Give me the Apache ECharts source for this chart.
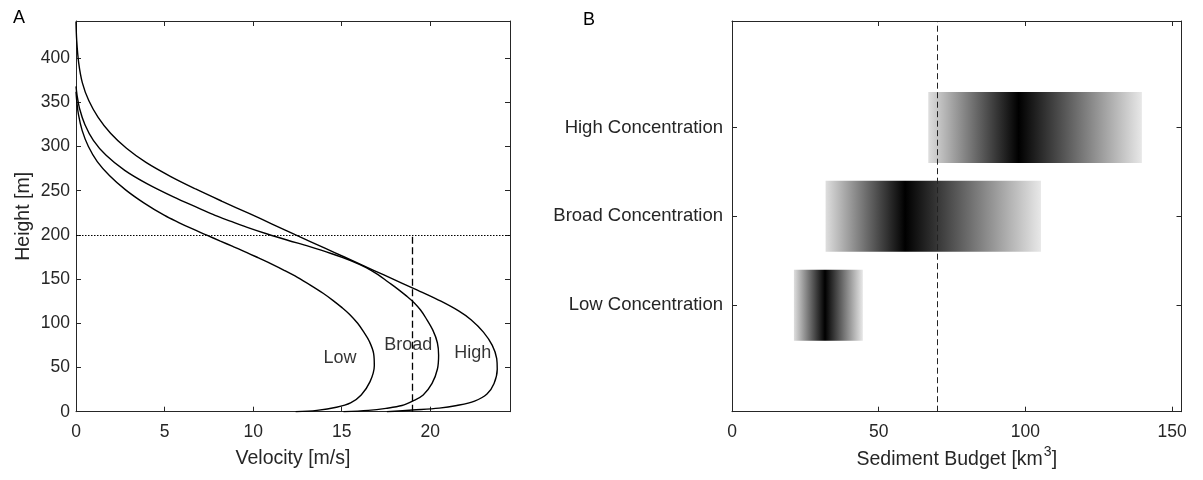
<!DOCTYPE html>
<html>
<head>
<meta charset="utf-8">
<script src="https://cdn.jsdelivr.net/npm/echarts@6/dist/echarts.min.js"></script>
<style>
  html, body { margin: 0; padding: 0; background: #fff; }
  #main { width: 1203px; height: 480px; }
</style>
</head>
<body>
<div id="main"></div>
<script>
// panel A: velocity profiles [velocity m/s, height m]
const lowProfile = [[12.4,0],[13.6,1.5],[14.7,5],[15.5,10],[16.1,19],[16.6,34],[16.84,52],[16.8,66],[16.55,80],[16.25,90],[15.9,100],[15.45,110],[15.0,118],[14.5,126],[13.95,134],[13.25,143],[12.5,152],[11.75,160],[11.05,167],[10.3,174],[9.65,180],[8.85,187],[8.15,193],[7.35,200],[6.55,207],[5.8,214],[5.0,222],[3.85,236],[2.8,251],[1.9,267],[1.2,283],[0.7,300],[0.35,318],[0.14,336],[0.04,352],[0,362]];
const broadProfile = [[15.1,0],[16.5,1.5],[17.5,3.8],[18.4,7],[19.0,12],[19.6,19],[20.1,32],[20.4,48],[20.47,64],[20.4,78],[20.15,92],[19.75,106],[19.45,115],[19.1,123],[18.65,131],[18.15,139],[17.6,147],[17.05,155],[16.38,163],[15.5,171],[14.4,179],[13.15,187],[11.95,194],[10.8,201],[9.75,208],[8.8,215],[7.85,222],[6.95,230],[5.5,243],[4.0,258],[2.75,273],[1.7,290],[0.98,307],[0.5,325],[0.2,343],[0.06,358],[0,368]];
const highProfile = [[17.55,0],[19.0,1.9],[20.5,4],[21.5,7],[22.5,12],[23.2,20],[23.6,32],[23.78,48],[23.75,60],[23.5,75],[23.0,90],[22.3,104],[21.6,114],[20.6,125],[19.55,135],[18.45,145],[17.35,155],[16.25,165],[15.15,175],[14.05,185],[12.4,200],[11.1,212],[9.8,224],[8.25,238],[6.75,252],[5.35,266],[3.95,282],[2.85,298],[1.95,315],[1.25,333],[0.72,352],[0.36,372],[0.15,395],[0.04,420],[0,441]];
const profileNames = ['Low', 'Broad', 'High'];
const profileLabelPos = [[14.9,61],[18.76,75.5],[22.4,66.5]];
const flowDepth = 200;      // dotted line
const velocityMark = 19;    // dashed line

// panel B: sediment budget ranges [km3]
const categories = ['Low Concentration', 'Broad Concentration', 'High Concentration'];
const catPos = [1, 2, 3];
const budgetMin = [21.1, 31.9, 66.9];
const budgetMax = [44.6, 105.3, 139.7];
const budgetPeak = [31.7, 59.0, 97.7];
const budgetMark = 70;

const FONT = 'Liberation Sans';
const AX = '#262626';

const chart = echarts.init(document.getElementById('main'));

const lineOf = { onZero: false, lineStyle: { color: AX, width: 1 } };
const tickIn = { inside: true, length: 5, lineStyle: { color: AX } };
const lbl = { color: AX, fontFamily: FONT, fontSize: 17.5 };
const nameStyle = { color: AX, fontFamily: FONT, fontSize: 19.5 };

function curve(name, data) {
  return {
    name: name, type: 'line', xAxisIndex: 0, yAxisIndex: 0,
    data: data, showSymbol: false, smooth: 0.35,
    lineStyle: { color: '#000', width: 1.4 }, silent: true
  };
}

const barData = categories.map((c, i) => [budgetMin[i], budgetMax[i], budgetPeak[i], catPos[i]]);

let option = {
  animation: false,
  title: [
    { text: 'A', left: 8, top: 4, textStyle: { fontSize: 18, fontWeight: 'normal', color: '#000', fontFamily: FONT } },
    { text: 'B', left: 578, top: 6, textStyle: { fontSize: 18, fontWeight: 'normal', color: '#000', fontFamily: FONT } }
  ],
  grid: [
    { left: 76, width: 434, top: 21, bottom: 68.3 },
    { left: 732, right: 21.5, top: 21, bottom: 68.3 }
  ],
  xAxis: [
    { type: 'value', gridIndex: 0, min: 0, max: 24.5, interval: 5,
      name: 'Velocity [m/s]', nameLocation: 'middle', nameGap: 37, nameTextStyle: nameStyle,
      axisLine: lineOf, axisTick: tickIn, splitLine: { show: false },
      axisLabel: Object.assign({ margin: 11, showMaxLabel: false }, lbl) },
    { type: 'value', gridIndex: 0, position: 'top', min: 0, max: 24.5, interval: 5,
      axisLine: lineOf, axisTick: tickIn, splitLine: { show: false }, axisLabel: { show: false } },
    { type: 'value', gridIndex: 1, min: 0, max: 153.2, interval: 50,
      name: 'Sediment Budget [km{sup|3}]', nameLocation: 'middle', nameGap: 33,
      nameTextStyle: Object.assign({ rich: { sup: { fontFamily: FONT, fontSize: 14, color: AX, verticalAlign: 'top', padding: [0, 0, 14, 1] } } }, nameStyle),
      axisLine: lineOf, axisTick: tickIn, splitLine: { show: false },
      axisLabel: Object.assign({ margin: 11, showMaxLabel: false }, lbl) },
    { type: 'value', gridIndex: 1, position: 'top', min: 0, max: 153.2, interval: 50,
      axisLine: lineOf, axisTick: tickIn, splitLine: { show: false }, axisLabel: { show: false } }
  ],
  yAxis: [
    { type: 'value', gridIndex: 0, min: 0, max: 442, interval: 50,
      name: 'Height [m]', nameLocation: 'middle', nameGap: 42, nameTextStyle: nameStyle,
      axisLine: lineOf, axisTick: tickIn, splitLine: { show: false },
      axisLabel: Object.assign({ margin: 6, showMaxLabel: false }, lbl) },
    { type: 'value', gridIndex: 0, position: 'right', min: 0, max: 442, interval: 50,
      axisLine: lineOf, axisTick: tickIn, splitLine: { show: false }, axisLabel: { show: false } },
    { type: 'value', gridIndex: 1, min: -0.2, max: 4.2,
      axisLine: lineOf, splitLine: { show: false },
      axisTick: Object.assign({ customValues: catPos }, tickIn),
      axisLabel: Object.assign({ margin: 9, customValues: catPos,
        formatter: v => categories[catPos.indexOf(v)] || '' }, lbl, { fontSize: 18.5 }) },
    { type: 'value', gridIndex: 1, position: 'right', min: -0.2, max: 4.2,
      axisLine: lineOf, splitLine: { show: false },
      axisTick: Object.assign({ customValues: catPos }, tickIn),
      axisLabel: { show: false } }
  ],
  series: [
    curve(profileNames[0], lowProfile),
    curve(profileNames[1], broadProfile),
    curve(profileNames[2], highProfile),
    {
      type: 'line', xAxisIndex: 0, yAxisIndex: 0, data: [], silent: true,
      markLine: {
        symbol: 'none', silent: true, label: { show: false }, animation: false,
        data: [
          { yAxis: flowDepth, lineStyle: { type: [1.5, 1.5], color: '#000', width: 1 } },
          [{ coord: [velocityMark, 0], lineStyle: { type: [7, 3.5], color: '#000', width: 1.3 } },
           { coord: [velocityMark, flowDepth] }]
        ]
      }
    },
    {
      type: 'scatter', xAxisIndex: 0, yAxisIndex: 0, silent: true,
      symbolSize: 1, itemStyle: { color: 'rgba(0,0,0,0)' },
      data: profileNames.map((n, i) => [profileLabelPos[i][0], profileLabelPos[i][1], n]),
      label: { show: true, position: 'inside', formatter: p => p.data[2],
        color: '#000', fontFamily: FONT, fontSize: 18 }
    },
    {
      type: 'custom', xAxisIndex: 2, yAxisIndex: 2, silent: true,
      data: barData,
      renderItem: function (params, api) {
        const lo = api.value(0), hi = api.value(1), pk = api.value(2), y = api.value(3);
        const p0 = api.coord([lo, y]);
        const p1 = api.coord([hi, y]);
        const h = api.size([0, 0.8])[1];
        const f = (pk - lo) / (hi - lo);
        return {
          type: 'rect',
          shape: { x: p0[0], y: p0[1] - h / 2, width: p1[0] - p0[0], height: h },
          style: {
            fill: new echarts.graphic.LinearGradient(0, 0, 1, 0, [
              { offset: 0, color: '#dedede' },
              { offset: f, color: '#000' },
              { offset: 1, color: '#e8e8e8' }
            ])
          }
        };
      }
    },
    {
      type: 'line', xAxisIndex: 2, yAxisIndex: 2, data: [], silent: true,
      markLine: {
        symbol: 'none', silent: true, label: { show: false }, animation: false,
        lineStyle: { type: [6, 3.5], color: '#222', width: 1 },
        data: [{ xAxis: budgetMark }]
      }
    }
  ]
};

chart.setOption(option);
window.addEventListener('resize', chart.resize);
</script>
</body>
</html>
